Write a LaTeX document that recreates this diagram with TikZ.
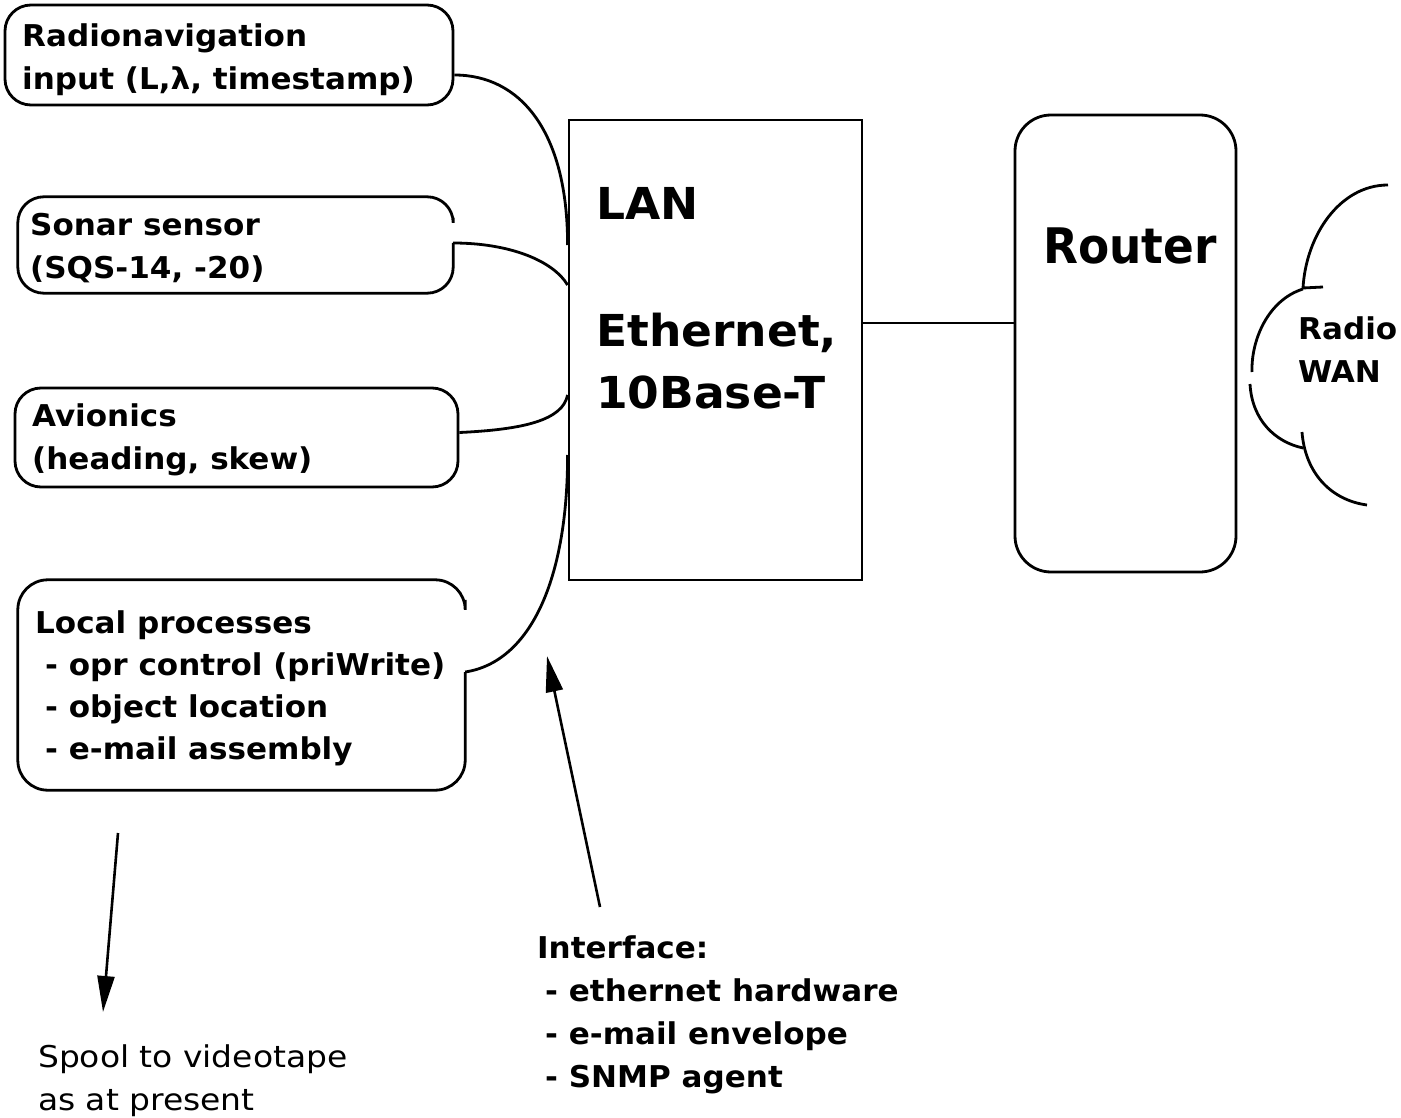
\documentclass[tikz,border=0pt]{standalone}
\usepackage{fontspec}
\usetikzlibrary{arrows.meta}
\newfontfamily\cond[FakeStretch=1.15]{DejaVu Sans Condensed}
\newfontfamily\condr[FakeStretch=1.03]{DejaVu Sans Condensed}
\newfontfamily\condw[FakeStretch=1.22]{DejaVu Sans Condensed}
\begin{document}
\begin{tikzpicture}[x=1pt,y=-1pt,
  ln/.style={line width=2.8pt},
  box/.style={ln,draw,rounded corners=26pt,inner sep=0pt},
  openbox/.style={draw=none,inner sep=0pt},
  txt/.style={inner sep=0pt,anchor=north west,align=left,font=\cond\bfseries\fontsize{30}{43}\selectfont},
  big/.style={inner sep=0pt,anchor=north west,align=left,font=\cond\bfseries\fontsize{44}{62}\selectfont},
  arr/.style={line width=2.6pt,-{Triangle[length=36pt,width=17pt]}}]
\useasboundingbox (0,0) rectangle (1401,1118);
% left boxes
\node[box,minimum width=448pt,minimum height=100pt] (radio) at (229,55) {};
\node[openbox,minimum width=435pt,minimum height=96pt] (sonar) at (235.5,245) {};
\draw[ln,rounded corners=26pt] ([yshift=-21pt]sonar.north east) -- (sonar.north east) -- (sonar.north west) -- (sonar.south west) -- (sonar.south east) -- ([yshift=2pt]sonar.east);
\node[box,minimum width=443pt,minimum height=99pt] (avio) at (236.5,437.5) {};
\node[openbox,minimum width=447pt,minimum height=210pt] (local) at (241.5,685) {};
\draw[ln,rounded corners=30pt] ([yshift=-20pt]local.north east) -- (local.north east) -- (local.north west) -- (local.south west) -- (local.south east) -- ([yshift=13pt]local.east);
% texts in boxes
\node[txt] (t1) at (22,24) {Radionavigation\\input (L,λ, timestamp)};
\node[txt] (t2) at (30,213) {Sonar sensor\\(SQS-14, -20)};
\node[txt] (t3) at (32,404) {Avionics\\(heading, skew)};
\node[txt,font=\cond\bfseries\fontsize{30}{42}\selectfont] (t4) at (35,611) {Local processes\\\hspace*{10pt}- opr control (priWrite)\\\hspace*{10pt}- object location\\\hspace*{10pt}- e-mail assembly};
% LAN
\node[ln,draw,minimum width=293pt,minimum height=460pt,inner sep=0pt] (lan) at (715.5,350) {};
\node[big] (lant) at (596,187) {LAN};
\node[big] (etht) at (596,313) {Ethernet,\\10Base-T};
% Router
\node[box,rounded corners=36pt,minimum width=221pt,minimum height=457pt] (router) at (1125.5,343.5) {};
\node[big,font=\condr\bfseries\fontsize{49}{60}\selectfont] (routert) at (1043,228) {Router};
% connectors
\draw[ln] ([yshift=-20pt]radio.east) .. controls +(65,0) and +(0,-115) .. ([yshift=105pt]lan.west);
\draw[ln] ([yshift=2pt]sonar.east) .. controls +(55,0) and +(-15,-25) .. ([yshift=65pt]lan.west);
\draw[ln] ([yshift=5pt]avio.east) .. controls +(65,-3) and +(-5,25) .. ([yshift=-45pt]lan.west);
\draw[ln] ([yshift=13pt]local.east) .. controls +(65,-10) and +(0,125) .. ([yshift=-105pt]lan.west);
\draw[ln] ([yshift=27pt]lan.east) -- ([yshift=27pt]lan.east -| router.west);
% cloud
\draw[ln] (1388,185) .. controls (1340,185) and (1306,235) .. (1303,288) -- (1323,287);
\draw[ln] (1303,289) .. controls (1268,300) and (1251,340) .. (1252,372);
\draw[ln] (1250,384) .. controls (1252,420) and (1275,442) .. (1303,448);
\draw[ln] (1302,432) .. controls (1305,472) and (1330,500) .. (1367,505);
\node[txt] (wan) at (1298,317) {Radio\\WAN};
% arrows and notes
\coordinate (a1s) at (118,833);
\coordinate (a1e) at (103,1012);
\draw[arr] (a1s) -- (a1e);
\coordinate (a2s) at (600,907);
\coordinate (a2e) at (547,656);
\draw[arr] (a2s) -- (a2e);
\node[txt] (intf) at (537,935) {Interface:\\\hspace*{8pt}- ethernet hardware\\\hspace*{8pt}- e-mail envelope\\\hspace*{8pt}- SNMP agent};
\node[txt,font=\condw\fontsize{30}{43}\selectfont] (spool) at (38,1044) {Spool to videotape\\as at present};
\end{tikzpicture}
\end{document}
